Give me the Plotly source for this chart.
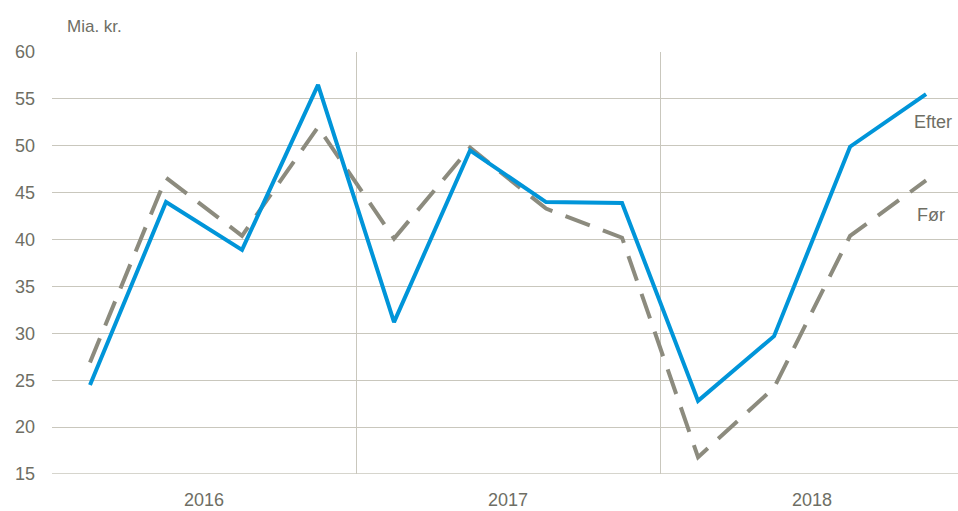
import plotly.graph_objects as go

quarters = ["2016K1", "2016K2", "2016K3", "2016K4",
            "2017K1", "2017K2", "2017K3", "2017K4",
            "2018K1", "2018K2", "2018K3", "2018K4"]
years = ["2016", "2017", "2018"]
efter = [24.5, 44.0, 38.9, 56.5, 31.2, 49.5, 44.0, 43.9, 22.8, 29.7, 49.9, 55.5]
foer = [26.9, 46.6, 40.4, 52.0, 40.1, 49.8, 43.3, 40.2, 16.8, 24.2, 40.4, 46.3]
y_ticks = [15, 20, 25, 30, 35, 40, 45, 50, 55, 60]

x = list(range(len(quarters)))
text_color = "#6E6E64"
grid_color = "#C9C7BD"
font_family = "Liberation Sans Narrow, Arial Narrow, Liberation Sans, Arial"

fig = go.Figure()
fig.add_trace(go.Scatter(x=x, y=foer, mode="lines", name="Før",
                         line=dict(color="#8C8B7E", width=4, dash="26px,14px")))
fig.add_trace(go.Scatter(x=x, y=efter, mode="lines", name="Efter",
                         line=dict(color="#0095D9", width=4)))

year_pos = [i * 4 + 1.5 for i in range(len(years))]

fig.update_layout(
    width=958, height=511,
    margin=dict(l=52, r=0, t=52, b=37, autoexpand=False),
    paper_bgcolor="white", plot_bgcolor="white",
    showlegend=False,
    font=dict(family=font_family, color=text_color, size=18),
    xaxis=dict(range=[-0.5, 11.42], tickmode="array", tickvals=year_pos, ticktext=years,
               showgrid=False, zeroline=False, showline=False, ticks="",
               ticklabelstandoff=13, automargin=False,
               minor=dict(tickmode="linear", tick0=-0.5, dtick=4, showgrid=True,
                          gridcolor=grid_color, gridwidth=1.3, ticks="")),
    yaxis=dict(range=[15, 60], tickvals=y_ticks, showgrid=True, gridcolor=grid_color,
               gridwidth=1.3, zeroline=False, showline=False, ticks="",
               ticklabelstandoff=16, automargin=False),
    shapes=[dict(type="line", xref="paper", yref="y", x0=0, x1=1, y0=15, y1=15,
                 line=dict(color=grid_color, width=1.5))],
    annotations=[
        dict(text="Mia. kr.", xref="paper", yref="paper", x=0.014, y=1.0, yshift=14,
             xanchor="left", yanchor="bottom", showarrow=False,
             font=dict(size=17, color=text_color)),
        dict(text="Efter", x=11.37, y=52.5, xref="x", yref="y", xanchor="right",
             showarrow=False, font=dict(size=18, color=text_color)),
        dict(text="Før", x=11.27, y=42.6, xref="x", yref="y", xanchor="right",
             showarrow=False, font=dict(size=18, color=text_color)),
    ],
)

fig.write_html("out.html", config={"displayModeBar": False},
               post_script="document.body.style.margin='0';")
